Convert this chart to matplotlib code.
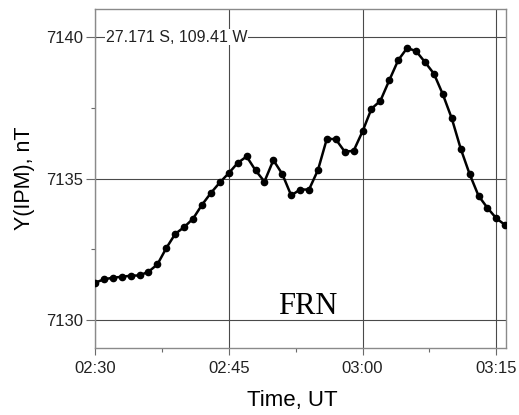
import matplotlib
matplotlib.use("Agg")
import matplotlib.pyplot as plt
import pandas as pd

# Y component of the geomagnetic field, one sample per minute from 02:30 UT
y_ipm = [
    7131.31, 7131.43, 7131.49, 7131.52, 7131.56, 7131.57, 7131.70, 7131.96,
    7132.54, 7133.04, 7133.28, 7133.58, 7134.07, 7134.49, 7134.86, 7135.19,
    7135.55, 7135.78, 7135.29, 7134.89, 7135.65, 7135.16, 7134.40, 7134.61,
    7134.61, 7135.30, 7136.41, 7136.39, 7135.95, 7135.98, 7136.67, 7137.47,
    7137.75, 7138.48, 7139.19, 7139.62, 7139.51, 7139.12, 7138.71, 7137.98,
    7137.13, 7136.06, 7135.16, 7134.39, 7133.96, 7133.59, 7133.35,
]
start_time = "2000-01-01 02:30"
end_time = "2000-01-01 03:16:03"
x_ticks = ["02:30", "02:45", "03:00", "03:15"]
x_minor = ["02:37:30", "02:52:30", "03:07:30"]
y_ticks = [7130, 7135, 7140]
y_minor = [7132.5, 7137.5]
station = "27.171 S, 109.41 W"
observatory = "FRN"

times = pd.date_range(start_time, periods=len(y_ipm), freq="1min")
day = "2000-01-01 "


def at(hhmm):
    return pd.Timestamp(day + hhmm)


plt.rcParams["font.family"] = ["Liberation Sans", "DejaVu Sans"]

fig = plt.figure(figsize=(5.19, 4.15), dpi=100)
ax = fig.add_axes([0.183, 0.1614, 0.7914, 0.8169])

ax.set_xlim(pd.Timestamp(start_time), pd.Timestamp(end_time))
ax.set_ylim(7129, 7141)

ax.set_xticks([at(t) for t in x_ticks])
ax.set_xticklabels(x_ticks)
ax.set_xticks([at(t) for t in x_minor], minor=True)
ax.set_yticks(y_ticks)
ax.set_yticks(y_minor, minor=True)

ax.grid(True, which="major", color="#4a4a4a", linewidth=0.8, zorder=1)
for s in ax.spines.values():
    s.set_color("#8a8a8a")
    s.set_linewidth(1.0)

ax.tick_params(axis="both", which="major", direction="out", colors="#6a6a6a",
               labelcolor="#222222", labelsize=12, width=0.8)
ax.tick_params(axis="y", which="major", length=6.5, pad=2)
ax.tick_params(axis="x", which="major", length=5, pad=4)
ax.tick_params(axis="both", which="minor", direction="out", length=3,
               width=0.8, colors="#6a6a6a")

ax.plot(times, y_ipm, color="black", linewidth=1.8, marker="o",
        markersize=4.5, zorder=3)

ax.set_xlabel("Time, UT", fontsize=16, labelpad=10)
ax.xaxis.set_label_coords(0.48, -0.125)
ax.set_ylabel("Y(IPM), nT", fontsize=15.5, labelpad=8)

ax.text(at("02:31:15"), 7140, station, fontsize=11.5, va="center",
        ha="left", color="#222222", zorder=4,
        bbox=dict(facecolor="white", edgecolor="none", pad=0.5))

ax.text(at("02:50:30"), 7130.2, observatory,
        family=["Liberation Serif", "DejaVu Serif"], fontsize=22,
        ha="left", va="baseline", color="black", zorder=4)

fig.savefig("out.png", dpi=100)
